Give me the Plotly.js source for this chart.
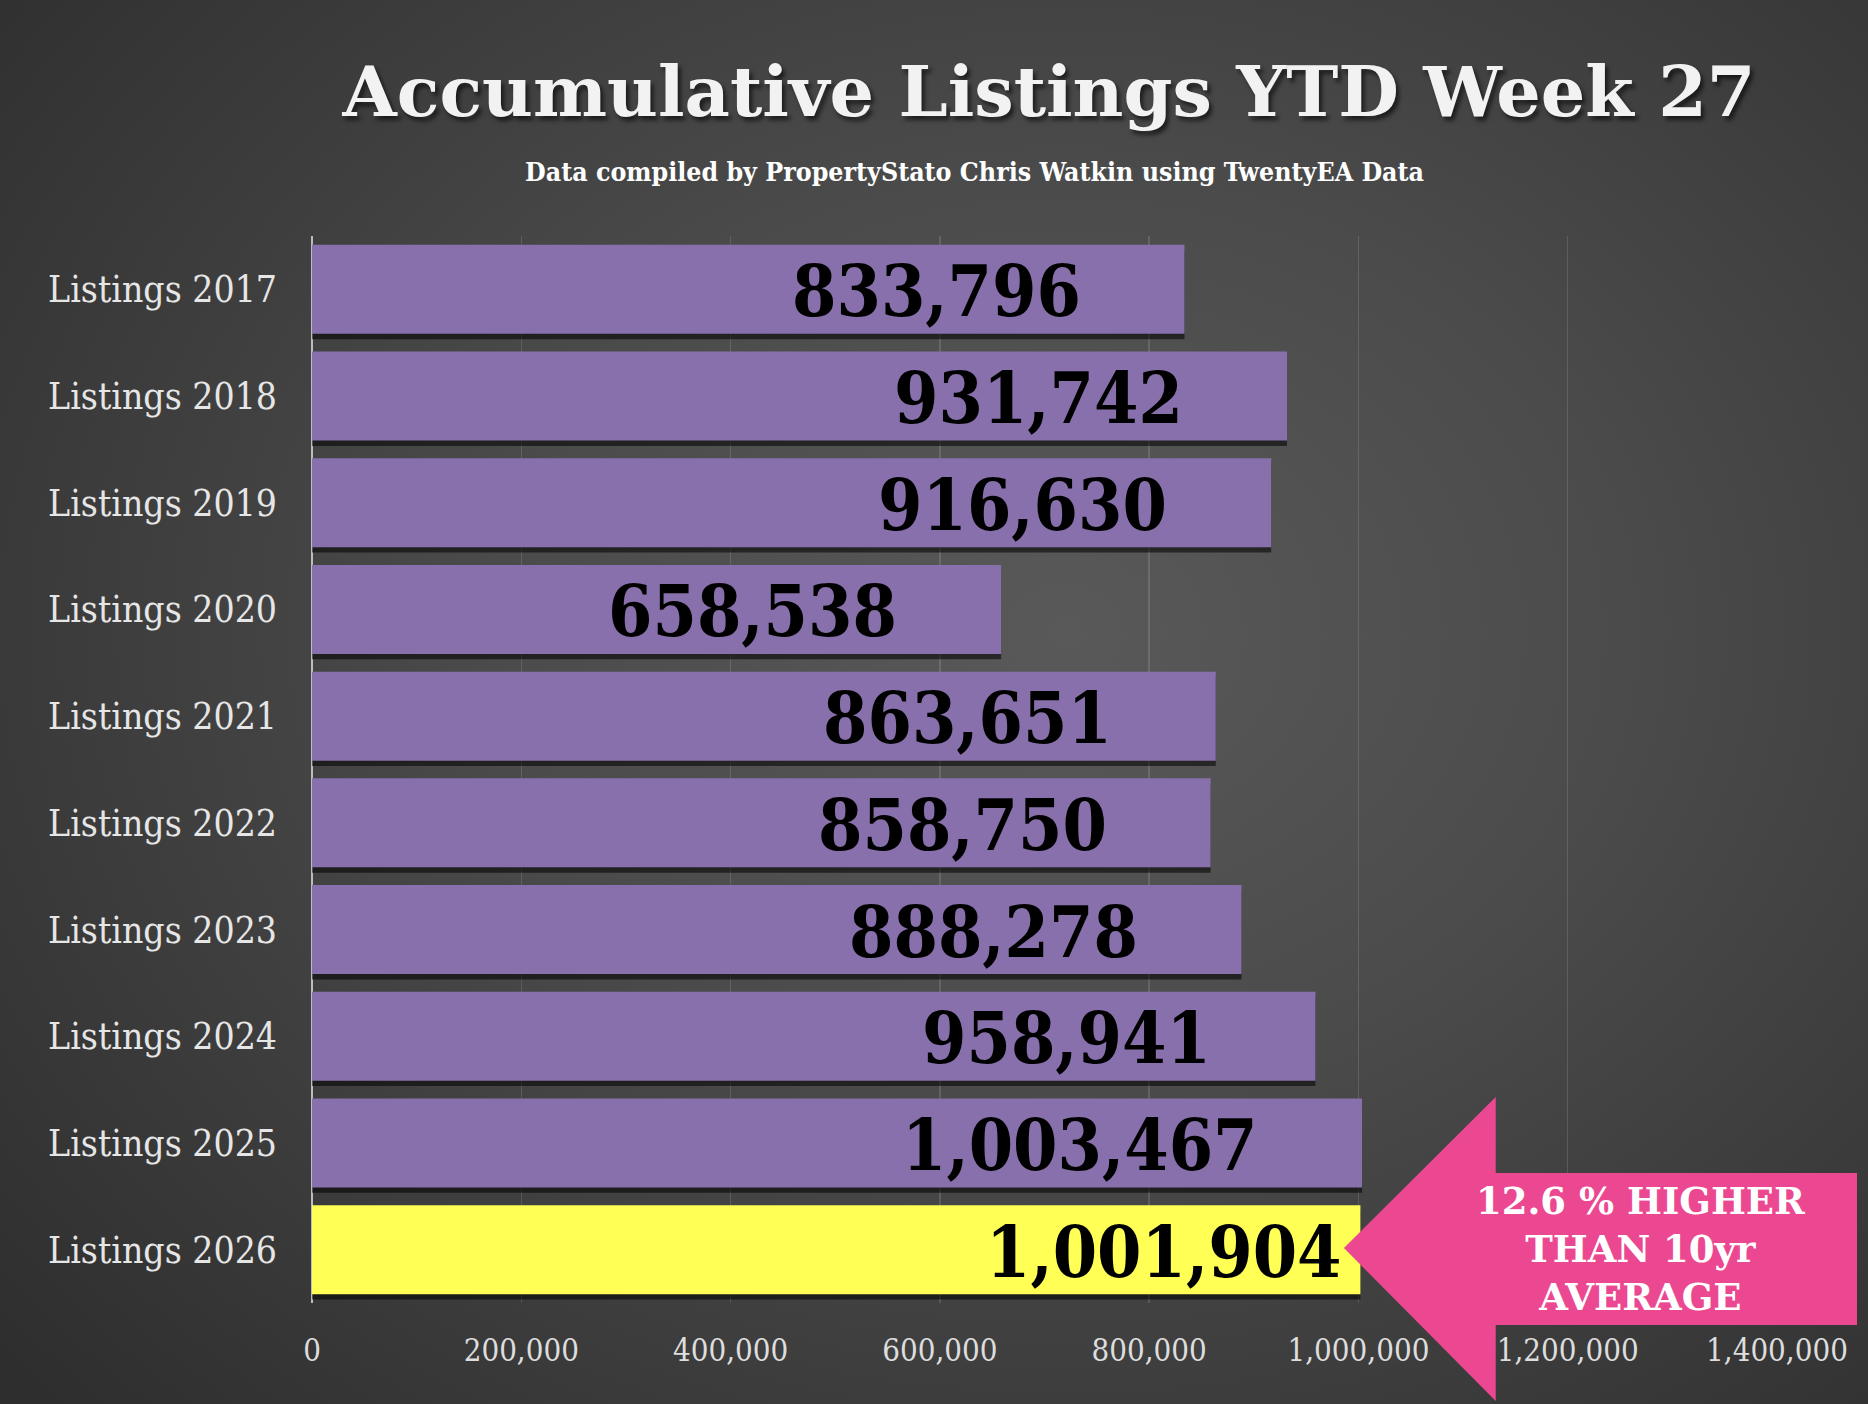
<!DOCTYPE html>
<html>
<head>
<meta charset="utf-8">
<script src="https://cdn.plot.ly/plotly-3.0.1.min.js"></script>
<style>
  html, body { margin: 0; padding: 0; }
  body {
    width: 1868px; height: 1404px; overflow: hidden;
    background: radial-gradient(ellipse 75% 80% at 57% 45%, #595959 0%, #4b4b4b 40%, #3a3a3a 75%, #2e2e2e 100%);
  }
  #chart { width: 1868px; height: 1404px; }
</style>
</head>
<body>
<div id="chart"></div>
<script>
// Accumulative listings YTD, week 27
const years = ['Listings 2017', 'Listings 2018', 'Listings 2019', 'Listings 2020', 'Listings 2021',
               'Listings 2022', 'Listings 2023', 'Listings 2024', 'Listings 2025', 'Listings 2026'];
const listings = [833796, 931742, 916630, 658538, 863651, 858750, 888278, 958941, 1003467, 1001904];
const xTicks = [0, 200000, 400000, 600000, 800000, 1000000, 1200000, 1400000];
const calloutLines = ['12.6 % HIGHER', 'THAN 10yr', 'AVERAGE'];

const PURPLE = '#8770AB';
const YELLOW = '#FFFF55';
const PINK = '#EB4891';
const SLAB = '"DejaVu Serif", serif';
const SLAB_C = '"DejaVu Serif Condensed", "DejaVu Serif", serif';
const BAR_W = 0.834;

const last = listings.length - 1;
const barColors = listings.map((v, i) => i === last ? YELLOW : PURPLE);
const fmt = v => v.toLocaleString('en-US');

const shadow = {
    type: 'bar', orientation: 'h',
    x: listings, y: years,
    width: BAR_W, offset: -BAR_W / 2 + 0.05,
    marker: { color: 'rgba(0,0,0,0.55)' },
    hoverinfo: 'skip', showlegend: false
};

const bars = {
    type: 'bar', orientation: 'h',
    x: listings, y: years,
    width: BAR_W,
    marker: { color: barColors, line: { width: 0 } },
    hovertemplate: '%{y}: %{x:,}<extra></extra>',
    showlegend: false
};

// value labels sit inside the bar, towards its end
const valueLabels = listings.map((v, i) => ({
    x: v, y: years[i], xref: 'x', yref: 'y',
    text: fmt(v), showarrow: false,
    xanchor: 'right', yanchor: 'middle',
    xshift: i === last ? -16 : -102, yshift: -2,
    font: { family: SLAB_C, size: 71, color: '#000000', weight: 900 }
}));

const layout = {
    width: 1868, height: 1404,
    paper_bgcolor: 'rgba(0,0,0,0)',
    plot_bgcolor: 'rgba(0,0,0,0)',
    margin: { t: 236, r: 91, b: 101, l: 312 },
    barmode: 'overlay',
    title: {
        text: 'Accumulative Listings YTD Week 27',
        xref: 'container', yref: 'container',
        x: 0.5616, xanchor: 'center', y: 0.935, yanchor: 'middle',
        font: { family: SLAB, size: 70, color: '#F2F2F2', weight: 'bold',
                shadow: '3px 4px 4px rgba(0,0,0,0.6)' }
    },
    xaxis: {
        range: [0, 1400000],
        tickvals: xTicks,
        ticktext: xTicks.map(fmt),
        showgrid: true,
        gridcolor: 'rgba(255,255,255,0.13)',
        gridwidth: 1.5,
        zeroline: true,
        zerolinecolor: '#BDBDBD',
        zerolinewidth: 1.5,
        showline: false,
        ticks: '',
        ticklabelstandoff: 26,
        tickfont: { family: SLAB_C, size: 31, color: '#DDDDDD' },
        fixedrange: true
    },
    yaxis: {
        type: 'category',
        autorange: 'reversed',
        showgrid: false,
        zeroline: false,
        showline: false,
        ticks: '',
        ticklabelstandoff: 34,
        tickfont: { family: SLAB_C, size: 37, color: '#E6E6E6' },
        fixedrange: true
    },
    shapes: [{
        // callout arrow pointing back at the 2026 bar
        type: 'path', xref: 'paper', yref: 'paper', layer: 'above',
        path: 'M 0.7044 0.0515 L 0.808 0.193 L 0.808 0.1218 L 1.0546 0.1218 ' +
              'L 1.0546 -0.0206 L 0.808 -0.0206 L 0.808 -0.0918 Z',
        fillcolor: PINK, line: { width: 0 }
    }],
    annotations: [
        {
            xref: 'paper', yref: 'paper', x: 0.452, y: 1.06,
            xanchor: 'center', yanchor: 'middle', showarrow: false,
            text: 'Data compiled by PropertyStato Chris Watkin using TwentyEA Data',
            font: { family: SLAB_C, size: 26.5, color: '#FFFFFF', weight: 'bold' }
        },
        {
            xref: 'paper', yref: 'paper', x: 0.9065, y: 0.0506,
            xanchor: 'center', yanchor: 'middle', showarrow: false,
            align: 'center',
            text: calloutLines.join('<br>'),
            font: { family: SLAB, size: 37, color: '#FFFFFF', weight: 'bold' }
        },
        ...valueLabels
    ]
};

Plotly.newPlot('chart', [shadow, bars], layout, { displayModeBar: false, staticPlot: true });
</script>
</body>
</html>
